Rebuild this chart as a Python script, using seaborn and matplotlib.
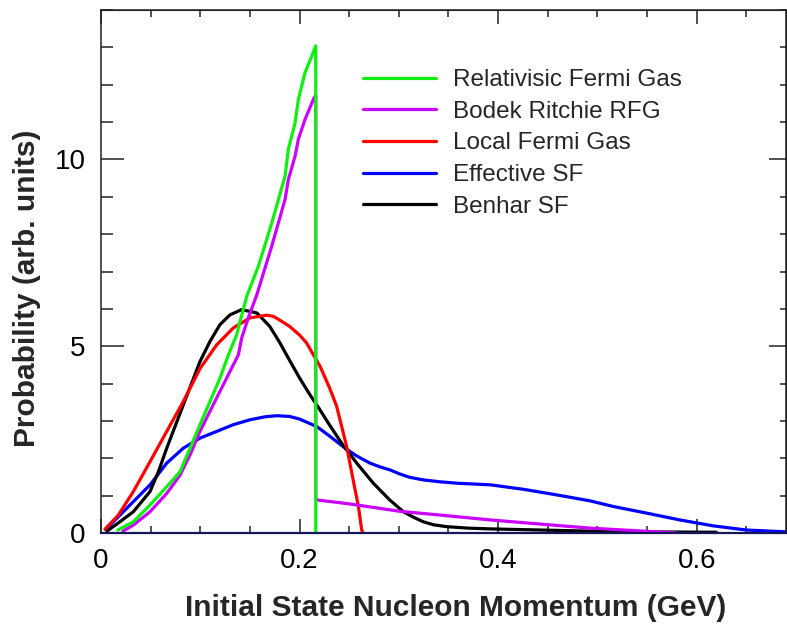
import matplotlib
matplotlib.use("Agg")
import matplotlib.pyplot as plt
import pandas as pd
import seaborn as sns
from matplotlib.lines import Line2D
from matplotlib.ticker import MultipleLocator, FuncFormatter

# Initial-state nucleon momentum distributions (momentum in GeV, probability in arb. units)
rfg_p = [0.017, 0.0326, 0.0494, 0.0662, 0.0796, 0.0897, 0.0997, 0.1098, 0.1199, 0.1283,
         0.1367, 0.1400, 0.1470, 0.1585, 0.1720, 0.1854, 0.1887, 0.1955, 0.1988, 0.2055,
         0.2123, 0.2163, 0.2163]
rfg_prob = [0.08, 0.30, 0.75, 1.24, 1.64, 2.27, 2.90, 3.52, 4.15, 4.77,
            5.31, 5.66, 6.35, 7.14, 8.30, 9.55, 10.27, 10.98, 11.61, 12.32,
            12.77, 13.04, 0.0]

bodek_p = [0.022, 0.0326, 0.0494, 0.0662, 0.0796, 0.0897, 0.0997, 0.1130, 0.1266, 0.1384,
           0.1417, 0.1484, 0.1570, 0.1720, 0.1854, 0.1887, 0.1955, 0.1988, 0.2055, 0.2140,
           0.2163, 0.2163, 0.219, 0.250, 0.291, 0.301, 0.3416, 0.392, 0.442, 0.4927,
           0.540, 0.580]
bodek_prob = [0.05, 0.21, 0.57, 1.06, 1.55, 2.09, 2.72, 3.43, 4.15, 4.77,
              5.22, 5.76, 6.38, 7.68, 8.93, 9.46, 10.09, 10.54, 11.07, 11.61,
              11.72, 0.90, 0.88, 0.78, 0.62, 0.58, 0.48, 0.35, 0.24, 0.13,
              0.06, 0.0]

lfg_p = [0.004, 0.0175, 0.0326, 0.0494, 0.0662, 0.0829, 0.0997, 0.1166, 0.1333, 0.1501,
         0.1670, 0.1736, 0.180, 0.190, 0.200, 0.207, 0.2207, 0.230, 0.2374, 0.2475,
         0.254, 0.2593, 0.2626, 0.264]
lfg_prob = [0.10, 0.48, 1.11, 1.91, 2.72, 3.52, 4.40, 5.04, 5.49, 5.76,
            5.83, 5.80, 5.70, 5.53, 5.30, 5.09, 4.46, 3.90, 3.39, 2.31,
            1.42, 0.71, 0.08, 0.0]

esf_p = [0.0047, 0.0158, 0.0326, 0.0494, 0.0662, 0.0829, 0.0997, 0.1166, 0.1333, 0.150,
         0.165, 0.177, 0.190, 0.200, 0.2173, 0.230, 0.244, 0.257, 0.271, 0.281,
         0.291, 0.301, 0.311, 0.325, 0.3416, 0.360, 0.392, 0.4255, 0.459, 0.4927,
         0.516, 0.550, 0.583, 0.617, 0.650, 0.691]
esf_prob = [0.10, 0.39, 0.84, 1.29, 1.87, 2.27, 2.54, 2.72, 2.90, 3.03,
            3.11, 3.14, 3.12, 3.05, 2.85, 2.60, 2.31, 2.07, 1.87, 1.77,
            1.69, 1.58, 1.49, 1.42, 1.37, 1.33, 1.29, 1.17, 1.02, 0.86,
            0.71, 0.53, 0.35, 0.19, 0.08, 0.03]

benhar_p = [0.006, 0.019, 0.0326, 0.0494, 0.0578, 0.0662, 0.0829, 0.0997, 0.1098, 0.1199,
            0.130, 0.1417, 0.157, 0.170, 0.180, 0.190, 0.200, 0.210, 0.220, 0.230,
            0.244, 0.2576, 0.2744, 0.291, 0.3046, 0.315, 0.3247, 0.335, 0.348, 0.370,
            0.392, 0.442, 0.4927, 0.550, 0.620]
benhar_prob = [0.05, 0.30, 0.57, 1.11, 1.64, 2.27, 3.43, 4.59, 5.13, 5.58,
               5.84, 5.98, 5.89, 5.53, 5.10, 4.62, 4.15, 3.72, 3.32, 2.90,
               2.34, 1.87, 1.33, 0.88, 0.57, 0.42, 0.30, 0.22, 0.17, 0.13,
               0.11, 0.08, 0.05, 0.03, 0.02]

models = ["Relativisic Fermi Gas", "Bodek Ritchie RFG", "Local Fermi Gas",
          "Effective SF", "Benhar SF"]
colors = ["#10f010", "#cc00ff", "#ff0000", "#0000ff", "#000000"]

series = {
    models[0]: (rfg_p, rfg_prob),
    models[1]: (bodek_p, bodek_prob),
    models[2]: (lfg_p, lfg_prob),
    models[3]: (esf_p, esf_prob),
    models[4]: (benhar_p, benhar_prob),
}
df = pd.concat(
    [pd.DataFrame({"momentum": xs, "probability": ys, "model": name})
     for name, (xs, ys) in series.items()],
    ignore_index=True,
)
palette = dict(zip(models, colors))

sns.set_style("ticks")
plt.rcParams["font.family"] = ["Liberation Sans", "DejaVu Sans"]

W, H = 787, 626
fig = plt.figure(figsize=(W / 100, H / 100), dpi=100)
ax = fig.add_axes([101 / W, 1 - 533 / H, 685 / W, 523 / H])

LW = 2.3
draw_order = ["Effective SF", "Benhar SF", "Local Fermi Gas", "Bodek Ritchie RFG",
              "Relativisic Fermi Gas"]
for name in draw_order:
    sns.lineplot(data=df[df["model"] == name], x="momentum", y="probability",
                 color=palette[name], linewidth=LW, sort=False, estimator=None,
                 legend=False, ax=ax, solid_joinstyle="round")

ax.set_xlim(0, 0.69)
ax.set_ylim(0, 14)
ax.set_xlabel("")
ax.set_ylabel("")

ax.xaxis.set_major_locator(MultipleLocator(0.2))
ax.xaxis.set_minor_locator(MultipleLocator(0.05))
ax.yaxis.set_major_locator(MultipleLocator(5))
ax.yaxis.set_minor_locator(MultipleLocator(1))
fmt = FuncFormatter(lambda v, _: f"{v:g}")
ax.xaxis.set_major_formatter(fmt)
ax.yaxis.set_major_formatter(fmt)

ax.tick_params(axis="x", which="major", direction="in", length=10, width=1.1,
               labelsize=20, pad=11, colors="#222222", labelcolor="black")
ax.tick_params(axis="x", which="minor", direction="in", length=5, width=1.1,
               colors="#222222")
ax.tick_params(axis="y", which="major", direction="in", length=16.5, width=1.1,
               labelsize=20, pad=11, colors="#222222", labelcolor="black")
ax.tick_params(axis="y", which="minor", direction="in", length=8.6, width=1.1,
               colors="#222222")

for side in ["left", "top", "right"]:
    ax.spines[side].set_color("#222222")
    ax.spines[side].set_linewidth(1.1)
ax.spines["bottom"].set_color("#16165a")
ax.spines["bottom"].set_linewidth(1.6)

top = ax.secondary_xaxis("top")
top.xaxis.set_major_locator(MultipleLocator(0.2))
top.xaxis.set_minor_locator(MultipleLocator(0.05))
top.tick_params(which="major", direction="in", length=10, width=1.1,
                labeltop=False, colors="#222222")
top.tick_params(which="minor", direction="in", length=5, width=1.1, colors="#222222")
top.spines["top"].set_color("#222222")

right = ax.secondary_yaxis("right")
right.yaxis.set_major_locator(MultipleLocator(5))
right.yaxis.set_minor_locator(MultipleLocator(1))
right.tick_params(which="major", direction="in", length=12, width=1.1,
                  labelright=False, colors="#222222")
right.tick_params(which="minor", direction="in", length=4.3, width=1.1,
                  colors="#222222")

handles = [Line2D([], [], color=c, linewidth=LW) for c in colors]
ax.legend(handles, models, loc="upper left", bbox_to_anchor=(363 / W, 1 - 69 / H),
          bbox_transform=fig.transFigure, frameon=False, fontsize=17.5,
          handlelength=3.0, handletextpad=0.7, labelspacing=0.40, borderpad=0,
          borderaxespad=0)

fig.text(456 / W, 1 - 608 / H, "Initial State Nucleon Momentum (GeV)",
         fontsize=21.5, fontweight="bold", ha="center", va="center")
fig.text(27 / W, 1 - 288 / H, "Probability (arb. units)", fontsize=21.5,
         fontweight="bold", ha="center", va="center", rotation=90)

fig.savefig("out.png", dpi=100)
